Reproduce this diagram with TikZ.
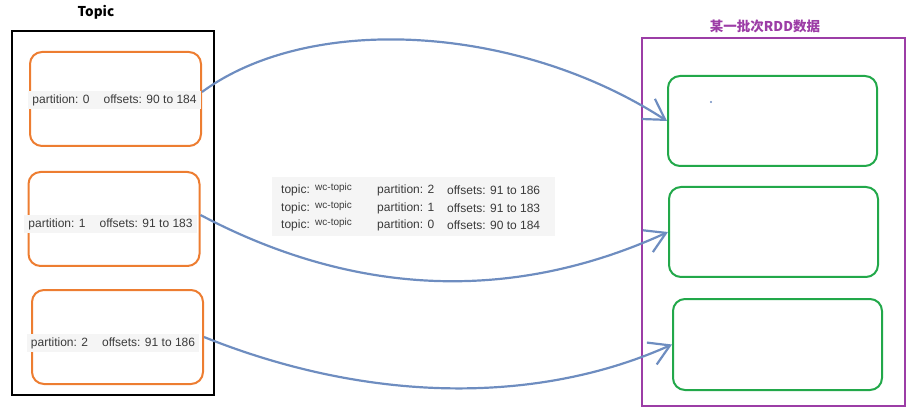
\documentclass[tikz,border=0pt]{standalone}
\usepackage{fontspec}
\setmainfont{Liberation Sans}
\newfontfamily\cjk{Noto Sans CJK SC}
\usetikzlibrary{arrows.meta}
\definecolor{kafkaorange}{HTML}{ED7D31}
\definecolor{rddgreen}{HTML}{22A84A}
\definecolor{rddpurple}{HTML}{9C3DA6}
\definecolor{flowblue}{HTML}{6E8DC0}
\definecolor{txtgray}{HTML}{3A3A3A}
\definecolor{bggray}{HTML}{F5F5F5}

\begin{document}
\begin{tikzpicture}[x=1pt,y=-1pt,
  part/.style={draw=kafkaorange,line width=2pt,rounded corners=12pt,minimum width=171pt,minimum height=94pt},
  rddpart/.style={draw=rddgreen,line width=2pt,rounded corners=12pt,minimum width=209pt,minimum height=90pt},
  info/.style={fill=bggray,text=txtgray,font=\fontsize{12}{14}\selectfont,inner xsep=4pt,inner ysep=3pt},
  cell/.style={text=txtgray,font=\fontsize{12}{14}\selectfont,inner sep=0pt,anchor=west},
  flow/.style={draw=flowblue,line width=2.2pt,-{Straight Barb[length=20pt,width=24pt]}}]
\useasboundingbox (0,0) rectangle (916,414);
% topic side
\node[draw,line width=2.5pt,minimum width=202pt,minimum height=364pt] (topic) at (113,213) {};
\node[font=\cjk\bfseries\fontsize{13.5}{15}\selectfont] (ttl) at (96,12) {Topic};
\node[part] (p0) at (115.5,99) {}; \node[part] (p1) at (114,219) {}; \node[part] (p2) at (117.5,337) {};
\node[info] (t0) at (114.5,100) {partition: 0\hspace{14pt}offsets: 90 to 184};
\node[info] (t1) at (110.5,224) {partition: 1\hspace{14pt}offsets: 91 to 183};
\node[info] (t2) at (113,343) {partition: 2\hspace{14pt}offsets: 91 to 186};
% rdd side
\node[draw=rddpurple,line width=2pt,minimum width=263pt,minimum height=368pt] (rdd) at (773.5,222) {};
\node[font=\cjk\bfseries\fontsize{13.5}{15}\selectfont,text=rddpurple] (rttl) at (765,26) {某一批次RDD数据};
\node[rddpart] (r0) at (772.5,121) {}; \node[rddpart] (r1) at (773.5,232) {}; \node[rddpart,minimum height=91pt] (r2) at (777.5,344.5) {};
\fill[flowblue] (711,102) circle (1.2pt);
% offsets of the batch
\node[fill=bggray,minimum width=283pt,minimum height=59pt] (meta) at (413.5,206.5) {};
\foreach \i/\p/\o/\y in {0/2/91 to 186/190,1/1/91 to 183/208,2/0/90 to 184/225} {
  \node[cell] (mt\i) at (281,\y) {topic:};
  \node[cell,font=\fontsize{10}{12}\selectfont] (mw\i) at (315,\y-2) {wc-topic};
  \node[cell] (mp\i) at (377,\y) {partition: \p};
  \node[cell] (mo\i) at (447,\y) {offsets: \o};
}
% arrows
\draw[flow] ([yshift=7pt]p0.east) .. controls +(109,-80) and +(-148,-96) .. (r0.west);
\draw[flow] ([yshift=4pt]p1.east) .. controls +(161,85) and +(-149,68) .. (r1.west);
\draw[flow] (p2.east) .. controls +(167,67) and +(-133,59.5) .. (r2.west);
\end{tikzpicture}
\end{document}
